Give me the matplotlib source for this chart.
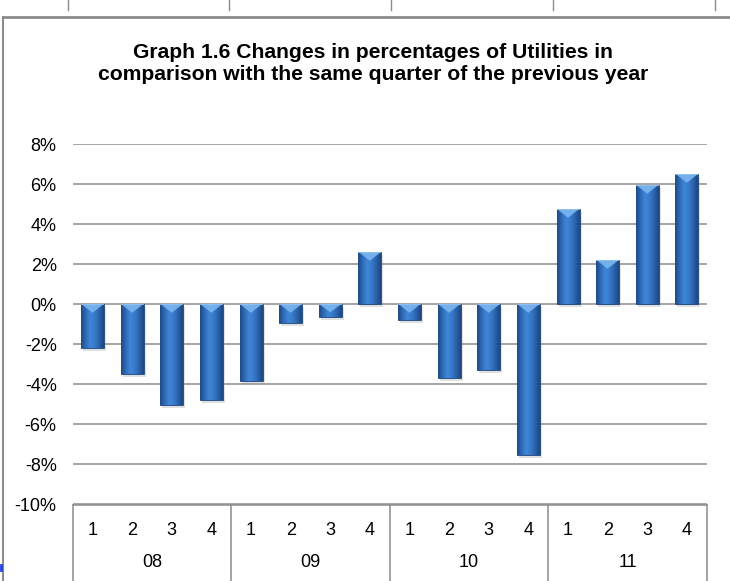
import numpy as np
import matplotlib.pyplot as plt
from matplotlib.colors import LinearSegmentedColormap
from matplotlib.lines import Line2D
from matplotlib.patches import Polygon
from matplotlib.ticker import FuncFormatter
from matplotlib import patheffects, transforms

# data
YEARS = ["08", "09", "10", "11"]
QUARTERS = ["1", "2", "3", "4"]
CHANGE_PCT = [-2.2, -3.5, -5.05, -4.8,
              -3.85, -0.95, -0.65, 2.6,
              -0.8, -3.7, -3.3, -7.55,
              4.75, 2.2, 5.95, 6.5]
Y_TICKS = [-10, -8, -6, -4, -2, 0, 2, 4, 6, 8]
TITLE = ("Graph 1.6 Changes in percentages of Utilities in\n"
         "comparison with the same quarter of the previous year")

W, H = 730, 581
GRAY = "#8c8c8c"
BAR_WIDTH = 0.58

plt.rcParams["font.family"] = ["Liberation Sans", "DejaVu Sans"]

fig = plt.figure(figsize=(W / 100, H / 100), dpi=100)

# plot area in pixel terms of the reference
left, right, top, bottom = 72.7, 706.7, 144.3, 504.5
ax = fig.add_axes([left / W, 1 - bottom / H, (right - left) / W, (bottom - top) / H])

n = len(CHANGE_PCT)
x = np.arange(n)

shade = LinearSegmentedColormap.from_list(
    "bar", ["#1d4a85", "#2f6bb8", "#4086d8", "#3879c9", "#2b62aa", "#1c4680"])
grad = np.linspace(0, 1, 64).reshape(1, -1)

bars = ax.bar(x, CHANGE_PCT, width=BAR_WIDTH, color="#2f6cb8", edgecolor="#1d477f",
              linewidth=0.6, zorder=3,
              path_effects=[patheffects.SimplePatchShadow(offset=(1.5, -2), shadow_rgbFace="#9a9a9a", alpha=0.3),
                            patheffects.Normal()])

for xi, val, bar in zip(x, CHANGE_PCT, bars):
    lo, hi = min(0, val), max(0, val)
    x0, x1 = xi - BAR_WIDTH / 2, xi + BAR_WIDTH / 2
    im = ax.imshow(grad, cmap=shade, extent=(x0, x1, lo, hi), aspect="auto",
                   interpolation="bicubic", zorder=4)
    im.set_clip_path(bar)
    tri_h = min(0.42, 0.6 * (hi - lo))
    ax.add_patch(Polygon([(x0 + 0.02, hi), (x1 - 0.02, hi), (xi, hi - tri_h)],
                         closed=True, facecolor="#7ab6f0", edgecolor="none", alpha=0.9, zorder=5))
    ax.add_patch(Polygon([(x0, hi), (x1, hi), (x1, hi - 0.05), (x0, hi - 0.05)],
                         closed=True, facecolor="#9cc8f5", edgecolor="none", alpha=0.8, zorder=5))

ax.set_xlim(-0.5, n - 0.5)
ax.set_ylim(Y_TICKS[0], Y_TICKS[-1])
ax.set_yticks(Y_TICKS)
ax.yaxis.set_major_formatter(FuncFormatter(lambda v, _: f"{v:.0f}%"))
ax.tick_params(axis="y", length=0, pad=11.5, labelsize=13)
ax.set_xticks([])
ax.yaxis.grid(True, color=GRAY, linewidth=1.1)
ax.set_axisbelow(True)
for side in ("left", "right", "top"):
    ax.spines[side].set_visible(False)
ax.spines["bottom"].set_color(GRAY)
ax.spines["bottom"].set_linewidth(1.1)

# two-level category axis
for i in range(n):
    ax.annotate(QUARTERS[i % 4], xy=(i, 0), xycoords=("data", "axes fraction"),
                xytext=(0, -18.5), textcoords="offset points",
                ha="center", va="center", fontsize=13)
for g, year in enumerate(YEARS):
    ax.annotate(year, xy=(g * 4 + 1.5, 0), xycoords=("data", "axes fraction"),
                xytext=(0, -42), textcoords="offset points",
                ha="center", va="center", fontsize=13)

blend = transforms.blended_transform_factory(ax.transData, fig.transFigure)
for g in range(len(YEARS) + 1):
    xb = g * 4 - 0.5
    ax.add_line(Line2D([xb, xb], [0, 1 - bottom / H], transform=blend,
                       color=GRAY, linewidth=1.1, clip_on=False))

# title
fig.text(373 / W, 1 - 63.5 / H, TITLE, ha="center", va="center", fontsize=15.2,
         fontweight="bold", linespacing=1.15)

# spreadsheet cell borders around the chart object
fig.add_artist(Line2D([3 / W, 1], [1 - 17 / H] * 2, color=GRAY, linewidth=2))
fig.add_artist(Line2D([3 / W] * 2, [0, 1 - 17 / H], color=GRAY, linewidth=1.5))
for px in [68, 229, 391, 553, 715]:
    fig.add_artist(Line2D([px / W] * 2, [1 - 10 / H, 1], color=GRAY, linewidth=1))
fig.add_artist(Line2D([0.5 / W] * 2, [1 - 570 / H, 1 - 565 / H], color="#1f3fe0", linewidth=2))

fig.savefig("out.png", dpi=100)
